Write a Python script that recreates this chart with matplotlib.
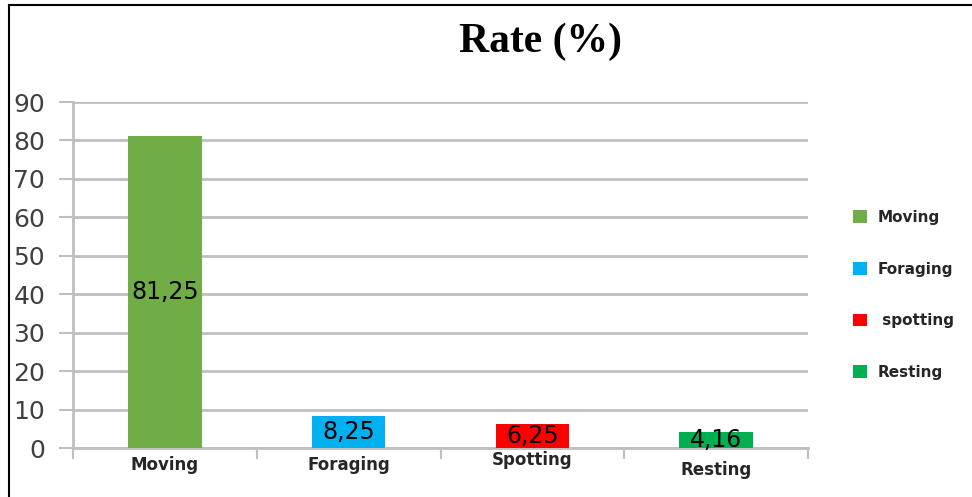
import matplotlib
matplotlib.use("Agg")
import matplotlib.pyplot as plt
from matplotlib.lines import Line2D
from matplotlib.patches import Patch

categories = ["Moving", "Foraging", "Spotting", "Resting"]
legend_names = ["Moving", "Foraging", " spotting", "Resting"]
rates = [81.25, 8.25, 6.25, 4.16]
value_labels = ["81,25", "8,25", "6,25", "4,16"]
colors = ["#70AD47", "#00B0F0", "#FF0000", "#00B050"]
yticks = [0, 10, 20, 30, 40, 50, 60, 70, 80, 90]

plt.rcParams['font.family'] = ['DejaVu Sans']

fig = plt.figure(figsize=(9.72, 4.97), dpi=100)
ax = fig.add_axes([73/972, 1 - 448/497, (808 - 73)/972, (448 - 102)/497])

x = list(range(len(categories)))
bars = ax.bar(x, rates, width=0.4, color=colors, zorder=3)

for b, lab in zip(bars, value_labels):
    ax.text(b.get_x() + b.get_width()/2, b.get_height()/2, lab,
            ha="center", va="center", fontsize=17, color="black", zorder=4)

ax.set_xlim(-0.5, 3.5)
ax.set_ylim(0, 90)
ax.set_yticks(yticks)
ax.yaxis.grid(True, color="#BFBFBF", linewidth=2, zorder=0)
ax.tick_params(axis="y", length=10, width=1.5, color="#BFBFBF",
               labelsize=18, labelcolor="#404040", pad=10)
ax.set_xticks([-0.5, 0.5, 1.5, 2.5, 3.5])
ax.set_xticklabels([])
ax.tick_params(axis="x", length=8, width=1.5, color="#BFBFBF")
for s in ["top", "right"]:
    ax.spines[s].set_visible(False)
ax.spines["left"].set_color("#BFBFBF")
ax.spines["left"].set_linewidth(2)
ax.spines["bottom"].set_color("#BFBFBF")
ax.spines["bottom"].set_linewidth(2)

# category labels sit at slightly different heights in the original
label_dy = [-0.05, -0.05, -0.035, -0.065]
for xi, name, dy in zip(x, categories, label_dy):
    ax.text(xi, dy, name, transform=ax.get_xaxis_transform(),
            ha="center", va="center", fontsize=12, fontweight="bold",
            color="#262626")

handles = [Patch(facecolor=c, edgecolor="none") for c in colors]
leg = fig.legend(handles, legend_names, loc="center left",
                 bbox_to_anchor=(839/972, 1 - 295/497), frameon=False,
                 handlelength=0.9, handleheight=0.9, handletextpad=0.7,
                 labelspacing=2.4, prop={"weight": "bold", "size": 11})
for t in leg.get_texts():
    t.set_color("#262626")

fig.text(540/972, 1 - 42/497, "Rate (%)", ha="center", va="center",
         fontsize=30, fontweight="bold", family="Liberation Serif")

# frame lines at the top and left of the picture
fig.add_artist(Line2D([9/972, 1], [1 - 5/497, 1 - 5/497], color="black",
                      linewidth=1.5, transform=fig.transFigure))
fig.add_artist(Line2D([9/972, 9/972], [0, 1 - 5/497], color="black",
                      linewidth=1.5, transform=fig.transFigure))

fig.savefig("out.png", dpi=100)
